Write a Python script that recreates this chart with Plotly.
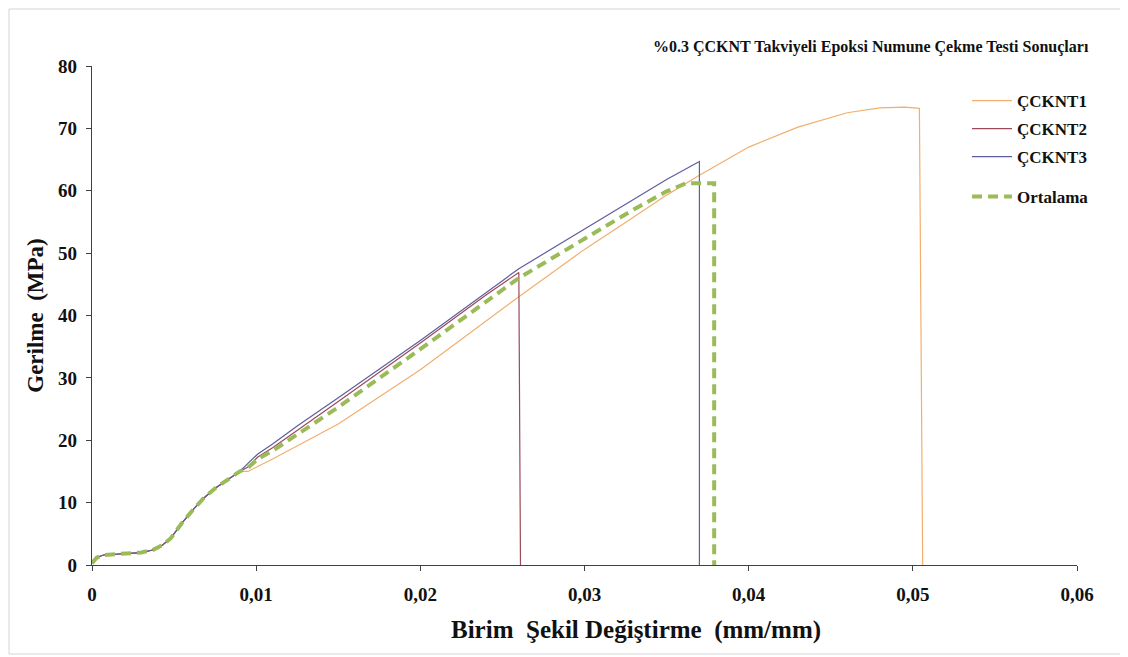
import plotly.graph_objects as go

# Shared start (toe region) -------------------------------------------------
toe_x = [0, 0.0003, 0.0007, 0.002, 0.003, 0.0037, 0.0043, 0.0048, 0.0055,
         0.0062, 0.0068, 0.0075, 0.0083, 0.009]
toe_y = [0.3, 1.2, 1.6, 1.8, 2.0, 2.4, 3.2, 4.3, 6.8, 9.0, 10.7, 12.3, 13.8,
         15.0]

# CKNT1 ---------------------------------------------------------------------
c1_x = toe_x + [0.0095, 0.0101, 0.011, 0.015, 0.02, 0.026, 0.03, 0.033, 0.035,
                0.037, 0.04, 0.043, 0.046, 0.048, 0.0495, 0.0504, 0.0506]
c1_y = toe_y + [15.0, 15.8, 17.0, 22.6, 31.3, 43.0, 50.6, 55.8, 59.3, 62.5,
                67.0, 70.2, 72.5, 73.3, 73.4, 73.2, 0]
# CKNT2 ---------------------------------------------------------------------
c2_x = toe_x + [0.0095, 0.0101, 0.011, 0.015, 0.02, 0.024, 0.026, 0.0261]
c2_y = toe_y + [15.7, 17.3, 18.8, 26.2, 35.6, 43.3, 46.9, 0]
# CKNT3 ---------------------------------------------------------------------
c3_x = toe_x + [0.0095, 0.0101, 0.011, 0.0125, 0.015, 0.02, 0.026, 0.03,
                0.033, 0.035, 0.037, 0.0370]
c3_y = toe_y + [16.3, 17.8, 19.4, 22.3, 26.8, 36.0, 47.5, 53.9, 58.7, 61.8,
                64.7, 0]
# Ortalama ------------------------------------------------------------------
av_x = toe_x + [0.0095, 0.0101, 0.011, 0.015, 0.02, 0.026, 0.03, 0.033, 0.035,
                0.0362, 0.0379, 0.0379]
av_y = toe_y + [15.6, 17.0, 18.3, 25.3, 34.6, 46.0, 52.3, 57.0, 59.9, 61.2,
                61.2, 0]

names = ['ÇCKNT1', 'ÇCKNT2', 'ÇCKNT3', 'Ortalama']
x_ticks = [0, 0.01, 0.02, 0.03, 0.04, 0.05, 0.06]
y_ticks = [0, 10, 20, 30, 40, 50, 60, 70, 80]

FONT = 'Liberation Serif'
# page body adds an 8px offset, so the figure is 8px smaller than the shot
OFF = 8
W, H = 1120, 649
ML, MR, MT, MB = 84, 51, 58, 92
X0, X1 = OFF + ML, OFF + W - MR          # plot area in screenshot pixels
Y1, Y0 = OFF + MT, OFF + H - MB


def px2paper_x(px):
    return (px - X0) / (X1 - X0)


def px2paper_y(py):
    return (Y0 - py) / (Y0 - Y1)


fig = go.Figure()
series = [
    (c1_x, c1_y, '#F2AE6E', 1.2, 'solid', 'legend'),
    (c2_x, c2_y, '#9A4A5A', 1.2, 'solid', 'legend2'),
    (c3_x, c3_y, '#5E5E9E', 1.2, 'solid', 'legend3'),
    (av_x, av_y, '#9BBB59', 4, '10px,6px', 'legend4'),
]
for (xs, ys, col, w, dash, leg), nm in zip(series, names):
    fig.add_trace(go.Scatter(
        x=xs, y=ys, name=nm, mode='lines',
        line=dict(color=col, width=w, dash=dash),
        legend=leg
    ))

leg_font = dict(family=FONT, size=17, color='#111111', weight='bold')
leg_rows = {'legend': 101, 'legend2': 129, 'legend3': 157, 'legend4': 197}
leg_cfg = {}
for k, py in leg_rows.items():
    leg_cfg[k] = dict(
        x=px2paper_x(967), y=px2paper_y(py), xanchor='left', yanchor='middle',
        font=leg_font, bgcolor='rgba(0,0,0,0)', itemwidth=40,
        tracegroupgap=0
    )

fig.update_layout(
    width=W, height=H,
    margin=dict(l=ML, r=MR, t=MT, b=MB, autoexpand=False),
    paper_bgcolor='white', plot_bgcolor='white',
    font=dict(family=FONT, color='#111111'),
    showlegend=True,
    **leg_cfg,
    annotations=[
        dict(
            text='<b>%0.3 ÇCKNT Takviyeli Epoksi Numune Çekme Testi Sonuçları</b>',
            x=px2paper_x(1091), y=px2paper_y(47), xref='paper', yref='paper',
            xanchor='right', yanchor='middle', showarrow=False,
            font=dict(family=FONT, size=16, color='#111111')
        ),
        dict(
            text='<b>Birim  Şekil Değiştirme  (mm/mm)</b>',
            x=px2paper_x(636), y=px2paper_y(630), xref='paper', yref='paper',
            xanchor='center', yanchor='middle', showarrow=False,
            font=dict(family=FONT, size=25, color='#111111')
        ),
    ],
    shapes=[dict(
        type='rect', xref='paper', yref='paper',
        x0=px2paper_x(9), x1=px2paper_x(1125),
        y0=px2paper_y(654), y1=px2paper_y(9),
        line=dict(color='#D4D4D4', width=1)
    )]
)

fig.update_xaxes(
    range=[0, 0.06], tickvals=x_ticks,
    ticktext=['<b>%s</b>' % ('0' if v == 0 else ('%.2f' % v).replace('.', ','))
              for v in x_ticks],
    showgrid=False, zeroline=False, showline=True, linecolor='#404040',
    linewidth=1.2, ticks='outside', ticklen=5, tickcolor='#404040',
    ticklabelstandoff=7,
    tickfont=dict(family=FONT, size=19, color='#111111')
)
fig.update_yaxes(
    range=[0, 80], tickvals=y_ticks,
    ticktext=['<b>%d</b>' % v for v in y_ticks],
    showgrid=False, zeroline=False, showline=True, linecolor='#404040',
    linewidth=1.2, ticks='outside', ticklen=5, tickcolor='#404040',
    ticklabelstandoff=5,
    tickfont=dict(family=FONT, size=19, color='#111111'),
    title=dict(text='<b>Gerilme  (MPa)</b>',
               font=dict(family=FONT, size=23, color='#111111'), standoff=8)
)

fig.write_html('out.html')
